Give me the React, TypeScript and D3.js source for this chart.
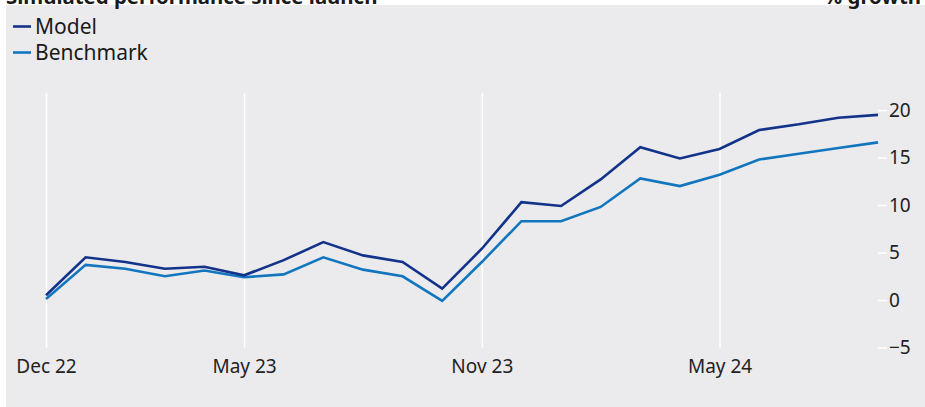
import React, { useEffect, useRef } from 'react';
import * as d3 from 'd3';

// monthly simulated performance, % growth since launch
const months = [
  'Dec 22', 'Jan 23', 'Feb 23', 'Mar 23', 'Apr 23', 'May 23', 'Jun 23', 'Jul 23',
  'Aug 23', 'Sep 23', 'Oct 23', 'Nov 23', 'Dec 23', 'Jan 24', 'Feb 24', 'Mar 24',
  'Apr 24', 'May 24', 'Jun 24', 'Jul 24', 'Aug 24', 'Sep 24'
];
const modelValues = [
  0.5, 4.5, 4.0, 3.3, 3.5, 2.6, 4.2, 6.1, 4.7, 4.0, 1.2,
  5.4, 10.3, 9.9, 12.7, 16.1, 14.9, 15.9, 17.9, 18.5, 19.2, 19.5
];
const benchmarkValues = [
  0.1, 3.7, 3.3, 2.5, 3.1, 2.4, 2.7, 4.5, 3.2, 2.5, -0.1,
  4.0, 8.3, 8.3, 9.8, 12.8, 12.0, 13.2, 14.8, 15.4, 16.0, 16.6
];
const xTickLabels = ['Dec 22', 'May 23', 'Nov 23', 'May 24'];
const yTickValues = [-5, 0, 5, 10, 15, 20];
const seriesNames = ['Model', 'Benchmark'];

const colors = ['#13338a', '#1276bf'];
const font = '"Noto Sans", sans-serif';

export default function App() {
  const ref = useRef<SVGSVGElement>(null);

  useEffect(() => {
    var width = 925;
    var height = 407;
    var svg = d3.select(ref.current);
    svg.selectAll('*').remove();

    svg.append('rect').attr('width', width).attr('height', height).attr('fill', '#ffffff');
    svg.append('rect')
      .attr('x', 6).attr('y', 5)
      .attr('width', width - 6).attr('height', height - 5)
      .attr('fill', '#ebebed');

    // title row, cut at the top as in the source
    svg.append('text')
      .attr('x', 6).attr('y', 4)
      .attr('font-family', font).attr('font-size', 20.4).attr('font-weight', 'bold')
      .attr('fill', '#1a1a1a')
      .text('Simulated performance since launch');
    svg.append('text')
      .attr('x', 921).attr('y', 4)
      .attr('text-anchor', 'end')
      .attr('font-family', font).attr('font-size', 20.4).attr('font-weight', 'bold')
      .attr('fill', '#1a1a1a')
      .text('% growth');

    var x = d3.scalePoint<string>().domain(months).range([46, 878]);
    var y = d3.scaleLinear().domain([-5, 21.8]).range([347.5, 93]);

    // vertical gridlines + month labels
    var xAxis = svg.append('g')
      .attr('transform', `translate(0 ${y(-5)})`)
      .call(d3.axisBottom(x).tickValues(xTickLabels).tickSize(-(y(-5) - y(21.8))).tickPadding(12));
    xAxis.select('.domain').remove();
    xAxis.selectAll('.tick line').attr('stroke', '#ffffff').attr('stroke-width', 1.5);
    xAxis.selectAll('.tick text')
      .attr('font-family', font).attr('font-size', 19).attr('fill', '#222222');

    var yAxis = svg.append('g')
      .attr('transform', `translate(878 0)`)
      .call(d3.axisRight(y).tickValues(yTickValues).tickSize(9).tickPadding(2));
    yAxis.select('.domain').remove();
    yAxis.selectAll('.tick line').attr('stroke', '#ffffff').attr('stroke-width', 1.5);
    yAxis.selectAll('.tick text')
      .attr('font-family', font).attr('font-size', 19).attr('fill', '#222222');

    var line = d3.line<number>()
      .x(function(d, i) { return x(months[i]) as number; })
      .y(function(d) { return y(d); });

    [benchmarkValues, modelValues].forEach(function(vals, k) {
      svg.append('path')
        .datum(vals)
        .attr('d', line)
        .attr('fill', 'none')
        .attr('stroke', colors[1 - k])
        .attr('stroke-width', 2.6)
        .attr('stroke-linejoin', 'miter');
    });

    // legend
    var legend = svg.selectAll('.legend')
      .data(seriesNames)
      .enter()
      .append('g')
      .attr('class', 'legend')
      .attr('transform', function(d, i) { return `translate(0 ${26.5 + i * 26})`; });
    legend.append('line')
      .attr('x1', 13).attr('x2', 31)
      .attr('stroke', function(d, i) { return colors[i]; })
      .attr('stroke-width', 2.6);
    legend.append('text')
      .attr('x', 35).attr('y', 0)
      .attr('dy', '0.35em')
      .attr('font-family', font).attr('font-size', 21)
      .attr('fill', '#1a1a1a')
      .text(function(d) { return d; });
  }, []);

  return (
    <svg ref={ref} width={925} height={407}
      style={{ position: 'absolute', left: 0, top: 0, display: 'block' }}></svg>
  );
}
